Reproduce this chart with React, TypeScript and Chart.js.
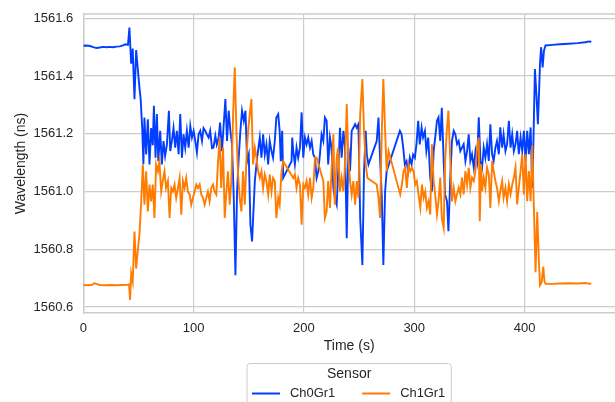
import React, { useEffect, useRef } from 'react';
import { Chart, registerables } from 'chart.js';

Chart.register(...registerables);

const FONT = "'Liberation Sans', Arial, sans-serif";
const TEXT = '#262626';
const GRID = '#cccccc';

const seriesNames = ['Ch0Gr1', 'Ch1Gr1'];
const seriesColors = ['#023eff', '#ff7c00'];
const xTicks = [0, 100, 200, 300, 400];
const yTicks = [1560.6, 1560.8, 1561.0, 1561.2, 1561.4, 1561.6];

// [time (s), wavelength] readings
const ch0Readings: [number, number][] = [
  [0,1561.505],[3,1561.506],[6,1561.504],[9,1561.500],[12,1561.497],[15,1561.499],[18,1561.501],[21,1561.500],[24,1561.501],[27,1561.500],[30,1561.502],[33,1561.503],[36,1561.506],[38,1561.510],[40.5,1561.508],
  [41.8,1561.568],[43.4,1561.443],[44.8,1561.495],[46.4,1561.320],[47.9,1561.490],[49.5,1561.420],[50.9,1561.360],[52,1561.320],[53.4,1561.220],[54.5,1561.095],
  [55.4,1561.256],[57,1561.128],[58.5,1561.250],[60,1561.094],[61.5,1561.220],[63,1561.160],[64,1561.297],[65.5,1561.117],[66.7,1561.268],[68,1561.105],[69.7,1561.210],[71.2,1561.094],[72.7,1561.175],[74.2,1561.123],[75.8,1561.163],[77.6,1561.280],[78.8,1561.140],[80.3,1561.175],[81.8,1561.220],[83.3,1561.152],[84.8,1561.210],[86.4,1561.129],[87.9,1561.268],[89.4,1561.117],[90.9,1561.198],[92.4,1561.152],[93.9,1561.210],[95.5,1561.152],[97,1561.227],[98.5,1561.187],[100,1561.210],
  [101.5,1561.175],[103,1561.135],[104.5,1561.198],[106,1561.210],[107.6,1561.175],[109,1561.220],[110.6,1561.210],[112,1561.198],[113.6,1561.187],[115,1561.210],[116.7,1561.150],[118,1561.152],[119.7,1561.193],[121,1561.163],[122.7,1561.187],[124,1561.239],[125.7,1561.140],[127.3,1561.233],[128.8,1561.320],[130.3,1561.175],[131.8,1561.280],[133.3,1561.210],[134.8,1561.163],[136.4,1560.978],[137.9,1560.710],[139.4,1561.000],[140.9,1561.117],[142.4,1561.210],[143.9,1561.280],[145.5,1561.245],[147,1561.280],[148.5,1561.105],[150,1561.129],
  [151.5,1560.885],[153,1560.827],[155.5,1561.036],[157.6,1561.117],[160,1561.187],[161.5,1561.117],[163,1561.198],[164.5,1561.128],[166,1561.163],[167.6,1561.094],[169,1561.175],[170.6,1561.140],[172,1561.117],[173.6,1561.175],[175,1561.256],[176.7,1561.268],[178,1561.210],[179,1561.105],[180.3,1561.210],[181.2,1561.047],[188.8,1561.105],[189.4,1561.187],[190.3,1561.140],[191.8,1561.094],[193.3,1561.152],[194.8,1561.117],[196.4,1561.152],[197.9,1561.274],[199.4,1561.117],
  [200.9,1561.187],[202.4,1561.163],[203.9,1561.187],[205.5,1561.152],[207,1561.175],[208.5,1561.128],[210,1561.117],[211.5,1561.047],[213,1561.070],[214.5,1561.128],[216,1561.198],[217.6,1561.175],[219,1561.256],[220.6,1561.245],[222,1561.094],[223.6,1561.187],[225,1561.152],[226.7,1561.012],[228,1560.978],[229.7,1560.954],[231,1561.059],[232.7,1561.221],[234.2,1561.117],[235.8,1561.210],[237.3,1561.152],[238.8,1560.838],[240.3,1561.152],[241.8,1561.070],[243.3,1561.210],[244.8,1561.221],[246.4,1561.233],[247.9,1561.221],[249.4,1561.233],
  [251,1560.908],[253,1560.745],[254.5,1561.070],[256,1561.210],[257,1561.128],[258.5,1561.094],[266,1561.175],[267.6,1561.256],[269,1561.117],[270.6,1560.978],[272,1560.745],[273.6,1561.000],[275,1561.070],[287,1561.210],[288.5,1561.198],[290,1561.152],[291.5,1561.094],[293,1561.105],[294.5,1561.070],[296,1561.117],[297.6,1561.094],[299,1561.128],
  [300.6,1561.117],[302,1561.163],[303.6,1561.245],[305,1561.163],[306.7,1561.221],[308,1561.187],[309.7,1561.210],[311,1561.140],[312.7,1561.187],[314.5,1561.048],[316,1561.000],[317.6,1561.140],[319,1561.187],[320.6,1561.245],[322,1561.257],[323.6,1561.175],[325,1561.290],[326.7,1561.106],[328,1560.990],[329.7,1560.966],[331,1560.862],[332.7,1561.048],[334.2,1561.175],[335.8,1561.210],[337.3,1561.198],[338.8,1561.164],[340.3,1561.175],[341.8,1561.140],[343.3,1561.152],[344.8,1561.164],[346.4,1561.106],[347.9,1561.140],[349.4,1561.198],
  [350.9,1561.106],[352.4,1561.129],[354,1561.083],[355.5,1561.140],[357,1561.106],[358.5,1561.257],[360,1561.106],[361.5,1561.083],[363,1561.152],[364.5,1561.117],[366,1561.164],[367.6,1561.106],[369,1561.233],[370.6,1561.129],[372,1561.106],[373.6,1561.152],[375,1561.175],[376.7,1561.129],[378,1561.222],[379.7,1561.152],[381,1561.198],[382.7,1561.140],[384.2,1561.164],[385.8,1561.245],[387.3,1561.152],[388.8,1561.198],[390.3,1561.140],[391.8,1561.164],[393.3,1561.210],[394.8,1561.129],[396.4,1561.187],[397.9,1561.140],[399.4,1561.210],
  [400.9,1561.106],[402.4,1561.210],[403.9,1561.129],[405.5,1561.222],[407,1561.013],[408,1561.164],[409.4,1561.424],[410.9,1561.326],[412.1,1561.233],[413,1561.326],[414,1561.442],[415,1561.500],[416.4,1561.430],[417.6,1561.488],[419,1561.506],[425,1561.508],[432,1561.510],[440,1561.512],[448,1561.514],[455,1561.517],[459,1561.520],[460.5,1561.518]
];

const ch1Readings: [number, number][] = [
  [0,1560.676],[4,1560.675],[8,1560.677],[10,1560.682],[12,1560.680],[15,1560.676],[20,1560.675],[25,1560.676],[30,1560.675],[35,1560.676],[40,1560.677],[41.5,1560.678],
  [42.4,1560.624],[43.4,1560.716],[44.8,1560.687],[46.4,1560.861],[47.9,1560.733],[49.5,1560.800],[50.9,1560.850],[52.5,1560.966],[54,1561.094],
  [55.4,1560.954],[57,1561.070],[58.5,1560.931],[60,1561.024],[61.5,1560.966],[63,1561.024],[64.5,1560.908],[66,1561.094],[67.6,1561.070],[69,1561.105],[70.6,1561.000],[72,1561.036],[73.6,1561.070],[75,1561.012],[76.7,1561.036],[78.2,1560.908],[79.7,1561.012],[81.2,1561.000],[82.7,1561.024],[84.2,1560.978],[85.8,1561.012],[87.3,1561.047],[88.8,1560.920],[90.3,1561.036],[91.8,1561.012],[93.3,1561.047],[94.8,1561.000],[96.4,1560.989],[97.9,1560.954],[99.4,1560.978],
  [100.9,1561.000],[102.4,1561.024],[103.9,1561.012],[105.5,1561.024],[107,1560.989],[108.5,1560.978],[110,1560.954],[111.5,1560.978],[113,1561.000],[114.5,1560.966],[116,1561.012],[117.6,1561.024],[119,1561.000],[120.6,1560.989],[122,1561.094],[123.6,1561.187],[125,1561.012],[126.7,1561.152],[128.2,1560.908],[129.7,1561.000],[131.2,1561.070],[132.7,1560.954],[134.2,1561.036],[135.8,1561.268],[137.3,1561.430],[138.8,1561.210],[140.3,1561.059],[141.8,1560.978],[143.3,1560.931],[144.8,1561.070],[146.4,1560.954],[147.9,1561.117],[149.4,1561.210],
  [150.9,1561.268],[152.4,1561.320],[153.9,1561.094],[155.5,1561.152],[157,1561.117],[158.5,1561.070],[160,1561.047],[161.5,1561.070],[163,1561.012],[164.5,1561.059],[166,1561.036],[167.6,1560.989],[169,1561.059],[170.6,1561.000],[172,1561.047],[173.6,1561.036],[175,1560.908],[176.7,1560.978],[178,1560.954],[179.7,1561.070],[181.2,1561.105],[190.3,1561.047],[191.8,1561.059],[193.3,1561.012],[194.8,1561.047],[196.4,1561.024],[197.9,1560.885],[199.4,1561.024],
  [200.9,1561.012],[202.4,1561.036],[203.9,1560.989],[205.5,1561.047],[207,1560.978],[208.5,1561.012],[210,1561.117],[211.5,1561.117],[217.6,1561.036],[219,1560.908],[220.6,1560.931],[222,1561.036],[223.6,1560.943],[225,1561.070],[226.7,1561.198],[228,1560.954],[229.7,1561.117],[231,1561.152],[232.7,1561.000],[234.2,1561.047],[235.8,1561.000],[237.3,1561.094],[238.8,1561.303],[240.3,1561.117],[241.8,1561.036],[243.3,1560.989],[244.8,1561.036],[246.4,1560.954],[247.9,1561.036],[249.4,1560.978],
  [251,1561.268],[253,1561.390],[254.5,1561.210],[256,1561.094],[257.6,1561.047],[266,1561.024],[267.6,1560.978],[269,1560.908],[270.6,1561.210],[272,1561.390],[273.6,1561.210],[275,1561.070],[276.7,1561.140],[287.3,1560.990],[288.8,1561.024],[290.3,1561.070],[291.8,1561.082],[293.3,1561.012],[294.8,1561.094],[296.4,1561.070],[297.9,1561.082],[299.4,1561.070],
  [300.9,1561.024],[302.4,1561.036],[303.9,1560.989],[305.5,1560.943],[307,1561.024],[308.5,1560.978],[310,1561.000],[311.5,1560.943],[313,1560.966],[314.5,1560.920],[316,1561.164],[317.6,1561.036],[319,1560.990],[320.6,1560.920],[322,1560.966],[323.6,1561.048],[325,1560.908],[326.7,1560.874],[328,1561.106],[329.7,1561.222],[331,1561.280],[332.7,1561.106],[334.2,1560.966],[335.8,1561.013],[337.3,1560.966],[338.8,1560.990],[340.3,1561.013],[341.8,1560.990],[343.3,1561.048],[344.8,1560.990],[346.4,1561.071],[347.9,1561.024],[349.4,1561.083],
  [350.9,1561.013],[352.4,1561.048],[354,1561.036],[355.5,1561.071],[357,1561.152],[358.5,1561.187],[359.4,1560.897],[360.6,1561.094],[361.5,1561.001],[363,1561.048],[364.5,1561.013],[366,1561.083],[367.6,1561.059],[369,1560.943],[370.6,1561.106],[372,1561.071],[373.6,1561.036],[375,1561.013],[376.7,1560.966],[378,1561.001],[379.7,1561.036],[381,1560.978],[382.7,1561.013],[384.2,1560.966],[385.8,1561.024],[387.3,1560.990],[388.8,1561.024],[390.3,1561.048],[391.8,1561.083],[393.3,1560.955],[394.8,1561.013],[396.4,1561.071],[397.9,1561.129],[399.4,1560.990],
  [400.9,1561.129],[402.4,1560.966],[403.9,1561.071],[405.5,1560.966],[407,1561.160],[408.5,1560.940],[410,1560.720],[411.5,1560.930],[413,1560.760],[414,1560.675],[415.5,1560.685],[417,1560.740],[418,1560.690],[419,1560.680],[425,1560.680],[432,1560.681],[440,1560.682],[448,1560.681],[455,1560.683],[459,1560.680],[460.5,1560.682]
];

const seriesReadings = [ch0Readings, ch1Readings];

const frameAndLegend = {
  id: 'frameAndLegend',
  afterDraw(chart: any) {
    const { ctx, chartArea } = chart;
    ctx.save();
    // top spine
    ctx.strokeStyle = GRID;
    ctx.lineWidth = 1.5;
    ctx.beginPath();
    ctx.moveTo(chartArea.left, chartArea.top);
    ctx.lineTo(chartArea.right, chartArea.top);
    ctx.stroke();

    // legend
    const itemFont = `12.9px ${FONT}`;
    ctx.font = itemFont;
    const widths = seriesNames.map((n) => ctx.measureText(n).width);
    const lineLen = 28, gapText = 10, gapItem = 27, padL = 5, padR = 6;
    const boxW = padL + lineLen + gapText + widths[0] + gapItem + lineLen + gapText + widths[1] + padR;
    const cx = (chartArea.left + chartArea.right) / 2;
    const left = cx - boxW / 2;
    const top = chartArea.bottom + 50.5;
    const r = 3;
    ctx.beginPath();
    ctx.moveTo(left + r, top);
    ctx.lineTo(left + boxW - r, top);
    ctx.quadraticCurveTo(left + boxW, top, left + boxW, top + r);
    ctx.lineTo(left + boxW, top + 60);
    ctx.lineTo(left, top + 60);
    ctx.lineTo(left, top + r);
    ctx.quadraticCurveTo(left, top, left + r, top);
    ctx.closePath();
    ctx.fillStyle = 'rgba(255,255,255,0.8)';
    ctx.fill();
    ctx.strokeStyle = GRID;
    ctx.lineWidth = 1;
    ctx.stroke();

    ctx.fillStyle = TEXT;
    ctx.textAlign = 'center';
    ctx.textBaseline = 'middle';
    ctx.font = `14px ${FONT}`;
    ctx.fillText('Sensor', left + boxW / 2, chartArea.bottom + 61.5);

    ctx.font = itemFont;
    ctx.textAlign = 'left';
    const iy = chartArea.bottom + 80.5;
    let x = left + padL;
    seriesNames.forEach((name, i) => {
      ctx.strokeStyle = seriesColors[i];
      ctx.lineWidth = 2;
      ctx.beginPath();
      ctx.moveTo(x, iy);
      ctx.lineTo(x + lineLen, iy);
      ctx.stroke();
      ctx.fillStyle = TEXT;
      ctx.fillText(name, x + lineLen + gapText, iy);
      x += lineLen + gapText + widths[i] + gapItem;
    });
    ctx.restore();
  },
};

export default function App() {
  const ref = useRef<HTMLCanvasElement>(null);
  useEffect(() => {
    document.body.style.margin = '0';
    const datasets = seriesNames.map((name, i) => ({
      label: name,
      data: seriesReadings[i].map(([t, v]) => ({ x: t, y: v })),
      borderColor: seriesColors[i],
      backgroundColor: seriesColors[i],
      borderWidth: 1.9,
      pointRadius: 0,
      tension: 0,
      fill: false,
      order: i === 0 ? 1 : 0,
    }));
    const chart = new Chart(ref.current!, {
      type: 'line',
      data: { datasets },
      plugins: [frameAndLegend],
      options: {
        responsive: false,
        animation: false,
        devicePixelRatio: 1,
        layout: { padding: { top: 14, right: 0, bottom: 47.6, left: 0 } },
        plugins: { legend: { display: false }, tooltip: { enabled: false } },
        scales: {
          x: {
            type: 'linear',
            min: 0,
            max: 482,
            afterBuildTicks: (s: any) => { s.ticks = xTicks.map((v) => ({ value: v })); },
            afterFit: (s: any) => { s.paddingLeft = 0; s.paddingRight = 0; },
            ticks: { font: { family: FONT, size: 13 }, color: TEXT, padding: 8, maxRotation: 0, callback: (v: any) => String(v) },
            grid: { color: GRID, lineWidth: 1.2, drawTicks: false },
            border: { color: GRID, width: 1.5 },
            title: { display: true, text: 'Time (s)', font: { family: FONT, size: 14 }, color: TEXT, padding: { top: -7, bottom: 0 } },
          },
          y: {
            type: 'linear',
            min: 1560.579,
            max: 1561.615,
            afterBuildTicks: (s: any) => { s.ticks = yTicks.map((v) => ({ value: v })); },
            afterFit: (s: any) => { s.width = 83.3; s.paddingTop = 0; s.paddingBottom = 0; },
            ticks: { font: { family: FONT, size: 13 }, color: TEXT, padding: 10, callback: (v: any) => Number(v).toFixed(1) },
            grid: { color: GRID, lineWidth: 1.2, drawTicks: false },
            border: { color: GRID, width: 1.5 },
            title: { display: true, text: 'Wavelength (ns)', font: { family: FONT, size: 14 }, color: TEXT, padding: { top: 13, bottom: 0 } },
          },
        },
      } as any,
    });
    return () => chart.destroy();
  }, []);
  return (
    <div style={{ width: 615, height: 402, position: 'relative', background: '#fff' }}>
      <canvas ref={ref} width={615} height={402} />
    </div>
  );
}
